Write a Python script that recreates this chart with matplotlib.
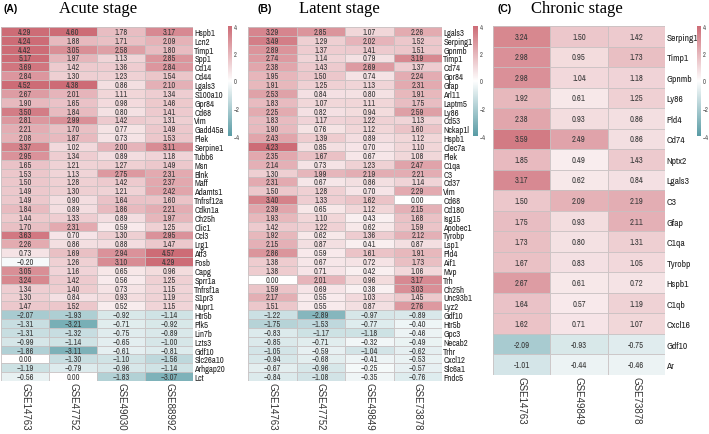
import numpy as np
import matplotlib
matplotlib.use("Agg")
import matplotlib.pyplot as plt
from matplotlib import font_manager
from matplotlib.colors import LinearSegmentedColormap, Normalize

# ---------------- data ----------------
genes_a = ["Hspb1", "Lcn2", "Timp1", "Spp1", "Cd14", "Cd44", "Lgals3", "S100a10", "Gpr84", "Cd68",
           "Vim", "Gadd45a", "Plek", "Serpine1", "Tubb6", "Msn", "Blnk", "Maff", "Adamts1", "Tnfrsf12a",
           "Cdkn1a", "Ch25h", "Clic1", "Ccl3", "Lrg1", "Atf3", "Fosb", "Capg", "Sprr1a", "Tnfrsf1a",
           "S1pr3", "Nupr1", "Htr5b", "Plk5", "Lin7b", "Lzts3", "Gdf10", "Slc26a10", "Arhgap20", "Lct"]
cols_a = ["GSE14763", "GSE47752", "GSE49030", "GSE88992"]
vals_a = [
    [4.29, 4.60, 1.78, 3.17], [4.24, 1.88, 1.71, 2.09], [4.42, 3.05, 2.58, 1.80], [5.17, 1.97, 1.13, 2.85],
    [3.69, 1.42, 1.36, 2.84], [2.84, 1.30, 1.23, 1.54], [4.52, 4.38, 0.86, 2.10], [2.67, 2.01, 1.11, 1.34],
    [1.90, 1.65, 0.98, 1.46], [3.50, 1.84, 0.80, 1.41], [2.81, 2.99, 1.42, 1.31], [2.21, 1.70, 0.77, 1.49],
    [2.08, 1.87, 0.73, 1.53], [3.37, 1.02, 2.00, 3.11], [2.95, 1.34, 0.89, 1.18], [1.65, 1.21, 1.27, 1.49],
    [1.53, 1.13, 2.75, 2.31], [1.50, 1.28, 1.42, 2.37], [1.49, 1.30, 1.21, 2.42], [1.49, 0.90, 1.64, 1.60],
    [1.84, 0.89, 1.86, 2.21], [1.44, 1.33, 0.89, 1.97], [1.70, 2.31, 0.59, 1.25], [3.63, 0.70, 1.30, 2.95],
    [2.26, 0.86, 0.88, 1.47], [0.73, 1.69, 2.94, 4.57], [-0.20, 1.26, 3.10, 4.29], [3.05, 1.16, 0.65, 0.96],
    [3.24, 1.42, 0.56, 1.25], [1.34, 1.40, 0.73, 1.15], [1.30, 0.84, 0.93, 1.19], [1.47, 1.52, 0.52, 1.15],
    [-2.07, -1.93, -0.92, -1.14], [-1.31, -3.21, -0.71, -0.92], [-1.31, -1.32, -0.75, -0.89],
    [-0.99, -1.14, -0.65, -1.00], [-1.86, -3.11, -0.61, -0.81], [0.00, -1.30, -1.10, -1.56],
    [-1.19, -0.79, -0.96, -1.14], [-0.56, 0.00, -1.83, -3.07],
]

genes_b = ["Lgals3", "Serping1", "Gpnmb", "Timp1", "Cd74", "Gpr84", "Gfap", "Arl11", "Laptm5", "Ly86",
           "Cd53", "Nckap1l", "Hspb1", "Clec7a", "Plek", "C1qa", "C3", "Cd37", "Vim", "Cd68",
           "Cd180", "Isg15", "Apobec1", "Tyrobp", "Lsp1", "Pld4", "Aif1", "Mvp", "Trh", "Ch25h",
           "Unc93b1", "Lyz2", "Gdf10", "Htr5b", "Gpc3", "Necab2", "Trhr", "Cxcl12", "Slc6a1", "Fndc5"]
cols_b = ["GSE14763", "GSE47752", "GSE49849", "GSE73878"]
vals_b = [
    [3.29, 2.85, 1.07, 2.26], [3.49, 1.29, 2.02, 1.52], [2.89, 1.37, 1.41, 1.51], [2.74, 1.14, 0.79, 3.19],
    [2.38, 1.43, 2.69, 1.37], [1.95, 1.50, 0.74, 2.24], [1.91, 1.25, 1.13, 2.31], [2.53, 0.84, 0.80, 1.91],
    [1.83, 1.07, 1.11, 1.75], [2.25, 0.82, 0.94, 2.59], [1.83, 1.17, 1.22, 1.13], [1.90, 0.76, 1.12, 1.60],
    [2.43, 1.39, 0.89, 1.12], [4.23, 0.85, 0.70, 1.10], [2.35, 1.67, 0.67, 1.08], [2.14, 0.73, 1.23, 2.47],
    [1.30, 1.99, 2.19, 2.21], [2.31, 0.67, 0.86, 1.14], [1.50, 1.28, 0.70, 2.29], [3.40, 1.33, 1.62, 0.00],
    [2.39, 0.65, 1.12, 2.15], [1.93, 1.10, 0.43, 1.68], [1.42, 1.22, 0.62, 1.59], [1.92, 0.62, 1.36, 2.12],
    [2.15, 0.87, 0.41, 0.87], [2.86, 0.59, 1.61, 1.91], [1.38, 0.67, 0.72, 1.73], [1.38, 0.71, 0.42, 1.06],
    [0.00, 2.01, 0.96, 3.17], [1.59, 0.69, 0.38, 3.03], [2.17, 0.55, 1.03, 1.45], [1.51, 0.55, 0.87, 2.76],
    [-1.22, -2.89, -0.97, -0.89], [-1.75, -1.53, -0.77, -0.40], [-0.83, -1.17, -1.18, -0.46],
    [-0.85, -0.71, -0.32, -0.49], [-1.05, -0.59, -1.04, -0.62], [-0.94, -0.68, -0.41, -0.53],
    [-0.67, -0.96, -0.25, -0.57], [-0.84, -1.08, -0.35, -0.76],
]

genes_c = ["Serping1", "Timp1", "Gpnmb", "Ly86", "Pld4", "Cd74", "Nptx2", "Lgals3", "C3", "Gfap",
           "C1qa", "Tyrobp", "Hspb1", "C1qb", "Cxcl16", "Gdf10", "Ar"]
cols_c = ["GSE14763", "GSE49849", "GSE73878"]
vals_c = [
    [3.24, 1.50, 1.42], [2.98, 0.95, 1.73], [2.98, 1.04, 1.18], [1.92, 0.61, 1.25], [2.38, 0.93, 0.86],
    [3.59, 2.49, 0.86], [1.85, 0.49, 1.43], [3.17, 0.62, 0.84], [1.50, 2.09, 2.19], [1.75, 0.93, 2.11],
    [1.73, 0.80, 1.31], [1.67, 0.83, 1.05], [2.67, 0.61, 0.72], [1.64, 0.57, 1.19], [1.62, 0.71, 1.07],
    [-2.09, -0.93, -0.75], [-1.01, -0.44, -0.46],
]

titles = ["Acute stage", "Latent stage", "Chronic stage"]
letters = ["(A)", "(B)", "(C)"]
cbar_ticks = [4, 2, 0, -2, -4]

# ---------------- font choice: look for a narrow sans face ----------------
narrow = None
for f in font_manager.fontManager.ttflist:
    nm = f.name.lower()
    if ("narrow" in nm or "condensed" in nm) and "serif" not in nm and "mono" not in nm:
        narrow = {"family": f.name, "stretch": f.stretch, "weight": "normal"}
        break
if narrow is None:
    narrow = {"family": "Liberation Sans"}
    GENE_SCALE = 0.72
else:
    GENE_SCALE = 1.0

# ---------------- style ----------------
W, H = 709, 435
fig = plt.figure(figsize=(W / 100, H / 100), dpi=100)
cmap = LinearSegmentedColormap.from_list("tr", ["#3b8a95", "#ffffff", "#c5525e"])
norm = Normalize(vmin=-4, vmax=4)


def fbox(x0, y0, x1, y1):
    return [x0 / W, 1 - y1 / H, (x1 - x0) / W, (y1 - y0) / H]


def heat(box, genes, cols, vals, cell_fs, gene_fs, minus):
    ax = fig.add_axes(fbox(*box))
    data = np.array(vals, dtype=float)
    ax.pcolormesh(data, cmap=cmap, norm=norm, edgecolors="#c9c2c3", linewidth=0.6, alpha=0.85)
    ax.set_xlim(0, data.shape[1])
    ax.set_ylim(data.shape[0], 0)
    for i in range(data.shape[0]):
        for j in range(data.shape[1]):
            s = f"{data[i, j]:.2f}".replace("-", minus)
            ax.text(j + 0.5, i + 0.5, s, ha="center", va="center", fontsize=cell_fs,
                    color="#3a3a3a", **narrow)
    ax.yaxis.tick_right()
    ax.set_yticks(np.arange(data.shape[0]) + 0.5)
    ax.set_yticklabels(genes, fontsize=gene_fs * GENE_SCALE, color="#222222", **narrow)
    ax.set_xticks(np.arange(data.shape[1]) + 0.5)
    ax.set_xticklabels(cols, rotation=-90, fontsize=7.0, family="Liberation Sans", color="#333333",
                       va="top")
    ax.tick_params(axis="y", length=0, pad=1.0)
    ax.tick_params(axis="x", length=0, pad=1.0)
    for sp in ax.spines.values():
        sp.set_visible(False)
    return ax


def cbar(box):
    cax = fig.add_axes(fbox(*box))
    grad = np.linspace(-4, 4, 256).reshape(-1, 1)
    cax.imshow(grad, aspect="auto", cmap=cmap, norm=norm, origin="lower",
               extent=[0, 1, -4, 4], alpha=0.85)
    cax.set_xticks([])
    cax.yaxis.tick_right()
    cax.set_yticks(cbar_ticks)
    cax.set_yticklabels([str(t).replace("-", "\u2212") for t in cbar_ticks], fontsize=4.6,
                        color="#444444", **narrow)
    cax.tick_params(length=0, pad=1.5)
    for sp in cax.spines.values():
        sp.set_visible(False)


heat((1, 28, 193, 382), genes_a, cols_a, vals_a, 6.0, 6.3, "\u2212")
heat((248, 28, 442, 382), genes_b, cols_b, vals_b, 6.0, 6.3, "\u2212")
heat((493, 27, 665, 376), genes_c, cols_c, vals_c, 6.2, 6.8, "-")

cbar((228, 27, 232, 137))
cbar((473, 27, 478, 137))
cbar((697, 27, 701, 137))

serif = ["Liberation Serif", "DejaVu Serif"]
fig.text(3 / W, 1 - 9 / H, letters[0], fontsize=7.5, fontweight="bold", va="center", family="Liberation Sans")
fig.text(98 / W, 1 - 9 / H, titles[0], fontsize=12, va="center", ha="center", family=serif)
fig.text(258 / W, 1 - 9 / H, letters[1], fontsize=7.5, fontweight="bold", va="center", family="Liberation Sans")
fig.text(339 / W, 1 - 9 / H, titles[1], fontsize=12, va="center", ha="center", family=serif)
fig.text(497 / W, 1 - 9 / H, letters[2], fontsize=7.5, fontweight="bold", va="center", family="Liberation Sans")
fig.text(577 / W, 1 - 9 / H, titles[2], fontsize=12, va="center", ha="center", family=serif)

fig.savefig("out.png", dpi=100)
